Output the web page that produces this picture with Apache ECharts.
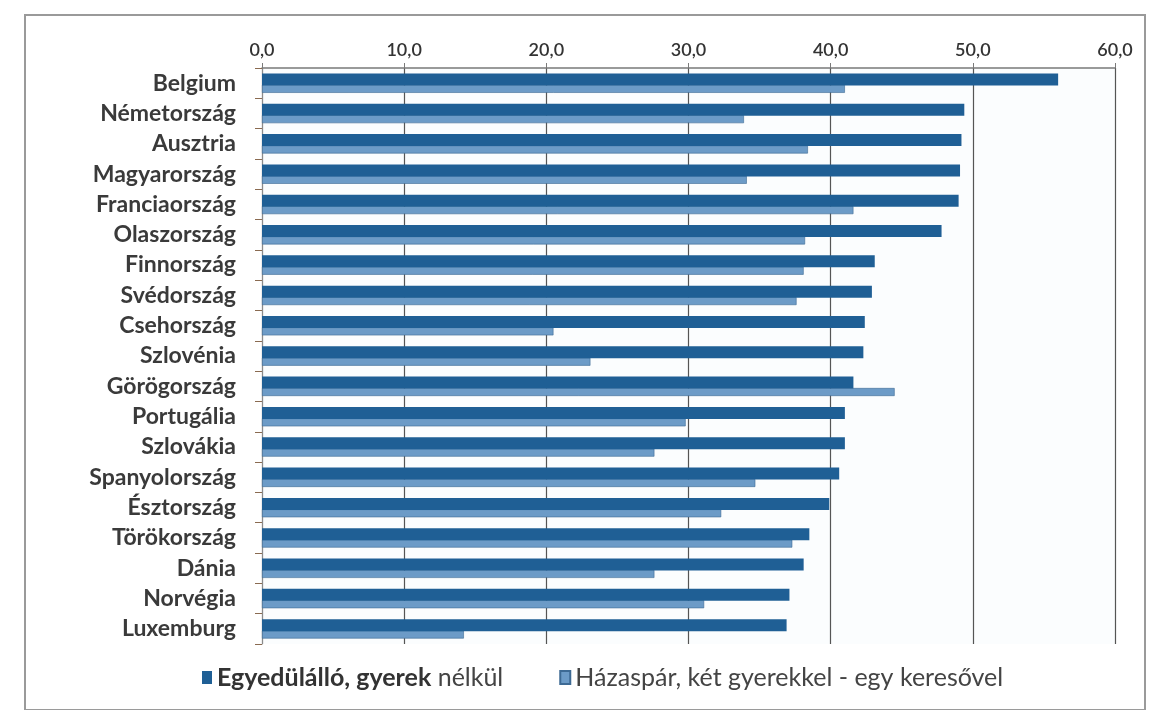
<!DOCTYPE html>
<html>
<head>
<meta charset="utf-8">
<script src="https://cdn.jsdelivr.net/npm/echarts@6/dist/echarts.min.js"></script>
<style>
  html, body { margin: 0; padding: 0; background: #fff; }
  #chart { width: 1157px; height: 710px; }
</style>
</head>
<body>
<div id="chart"></div>
<script>
const countries = [
  'Belgium', 'Németország', 'Ausztria', 'Magyarország', 'Franciaország',
  'Olaszország', 'Finnország', 'Svédország', 'Csehország', 'Szlovénia',
  'Görögország', 'Portugália', 'Szlovákia', 'Spanyolország', 'Észtország',
  'Törökország', 'Dánia', 'Norvégia', 'Luxemburg',
];
const single = [
  56.0, 49.4, 49.2, 49.1, 49.0, 47.8, 43.1, 42.9, 42.4, 42.3,
  41.6, 41.0, 41.0, 40.6, 39.9, 38.5, 38.1, 37.1, 36.9,
];
const couple = [
  41.0, 33.9, 38.4, 34.1, 41.6, 38.2, 38.1, 37.6, 20.5, 23.1,
  44.5, 29.8, 27.6, 34.7, 32.3, 37.3, 27.6, 31.1, 14.2,
];
const seriesNames = [
  'Egyedülálló, gyerek nélkül',
  'Házaspár, két gyerekkel - egy keresővel',
];
const xTicks = { min: 0, max: 60, interval: 10 };

const fontFamily = 'Lato, "Open Sans", sans-serif';
const chart = echarts.init(document.getElementById('chart'));

chart.setOption({
  backgroundColor: '#fff',
  animation: false,
  textStyle: { fontFamily },
  graphic: [
    {
      type: 'rect',
      shape: { x: 25, y: 15, width: 1120, height: 695 },
      style: { fill: 'none', stroke: '#9a9a9a', lineWidth: 2 },
      silent: true,
    },
  ],
  grid: {
    left: 262,
    right: 42,
    top: 68,
    height: 576,
    backgroundColor: '#fbfdfe',
    show: true,
    borderWidth: 0,
  },
  legend: {
    left: 197,
    top: 660,
    itemWidth: 10,
    itemHeight: 13,
    itemGap: 56,
    icon: 'rect',
    textStyle: {
      fontFamily,
      fontSize: 25,
      color: '#444',
      rich: {
        b: { fontFamily, fontSize: 25, fontWeight: 'bold', color: '#333' },
      },
    },
    formatter: (name) => (name === seriesNames[0] ? '{b|Egyedülálló, gyerek} nélkül' : name),
    data: seriesNames,
  },
  xAxis: {
    type: 'value',
    position: 'top',
    min: xTicks.min,
    max: xTicks.max,
    interval: xTicks.interval,
    axisLine: { show: true, lineStyle: { color: '#7a7a7a', width: 1.5 } },
    axisTick: { show: true, inside: false, length: 5, lineStyle: { color: '#7a7a7a' } },
    axisLabel: {
      color: '#333',
      fontSize: 18,
      fontWeight: 600,
      margin: 9,
      formatter: (v) => v.toFixed(1).replace('.', ','),
    },
    splitLine: { show: true, lineStyle: { color: '#555', width: 1.2 } },
  },
  yAxis: {
    type: 'category',
    inverse: true,
    data: countries,
    axisLine: { show: true, lineStyle: { color: '#8a8a8a' } },
    axisTick: { show: true, length: 7, lineStyle: { color: '#8a6a50' } },
    axisLabel: {
      color: '#3a3a3a',
      fontSize: 23,
      fontWeight: 'bold',
      margin: 26,
    },
  },
  series: [
    {
      name: seriesNames[0],
      type: 'bar',
      data: single,
      barWidth: 12,
      barGap: '-5%',
      itemStyle: { color: '#1F5F95' },
      z: 3,
    },
    {
      name: seriesNames[1],
      type: 'bar',
      data: couple,
      barWidth: 8,
      itemStyle: { color: '#6C9BC7', borderColor: '#3d6a94', borderWidth: 0.6 },
      z: 2,
    },
  ],
});
</script>
</body>
</html>
